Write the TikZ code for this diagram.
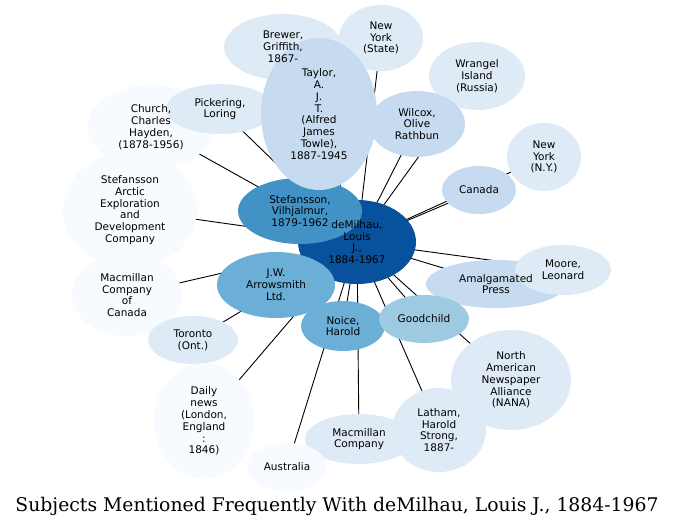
\documentclass[tikz,border=0pt]{standalone}
\usepackage{fontspec}
\setmainfont{DejaVu Sans}
\newfontfamily\titlefont{DejaVu Serif}
\usetikzlibrary{shapes.geometric}
\pgfdeclarelayer{edges}
\pgfsetlayers{edges,main}
\definecolor{cA}{HTML}{08519C}
\definecolor{cB}{HTML}{4292C6}
\definecolor{cC}{HTML}{6BAED6}
\definecolor{cD}{HTML}{9ECAE1}
\definecolor{cE}{HTML}{C6DBEF}
\definecolor{cF}{HTML}{DEEBF7}
\definecolor{cG}{HTML}{F7FBFF}
\begin{document}
\begin{tikzpicture}[x=1pt,y=-1pt,
  blob/.style={shape=ellipse, inner sep=0pt},
  lbl/.style={align=center, font=\fontsize{10.5}{11.8}\selectfont}
]
\useasboundingbox (0,0) rectangle (675,528);

\node[blob,fill=cF,minimum width=118,minimum height=66] (brewer) at (283,47) {};
\node[blob,fill=cF,minimum width=84,minimum height=66] (nys) at (381,38) {};
\node[blob,fill=cF,minimum width=96,minimum height=68] (wrangel) at (477,76) {};
\node[blob,fill=cG,minimum width=126,minimum height=84] (church) at (151,127) {};
\node[blob,fill=cF,minimum width=108,minimum height=50] (pickering) at (220,109) {};
\node[blob,fill=cG,minimum width=134,minimum height=116] (arctic) at (130,210) {};
\node[blob,fill=cE,minimum width=96,minimum height=66] (wilcox) at (417,124) {};
\node[blob,fill=cE,minimum width=74,minimum height=48] (canada) at (479,190) {};
\node[blob,fill=cF,minimum width=74,minimum height=68] (nyc) at (544,157) {};
\node[blob,fill=cG,minimum width=110,minimum height=82] (macmcan) at (127,295) {};
\node[blob,fill=cE,minimum width=140,minimum height=48] (amalg) at (496,284) {};
\node[blob,fill=cF,minimum width=96,minimum height=50] (moore) at (563,270) {};
\node[blob,fill=cF,minimum width=90,minimum height=48] (toronto) at (193,340) {};
\node[blob,fill=cF,minimum width=120,minimum height=100] (nana) at (511,380) {};
\node[blob,fill=cG,minimum width=100,minimum height=116] (daily) at (204,421) {};
\node[blob,fill=cF,minimum width=108,minimum height=50] (macm) at (359,439) {};
\node[blob,fill=cF,minimum width=94,minimum height=84] (latham) at (439,430) {};
\node[blob,fill=cG,minimum width=80,minimum height=48] (australia) at (287,467) {};
\node[blob,fill=cA,minimum width=118,minimum height=84] (milhau) at (357,242) {};
\node[blob,fill=cC,minimum width=118,minimum height=66] (arrow) at (276,285) {};
\node[blob,fill=cC,minimum width=84,minimum height=50] (noice) at (343,326) {};
\node[blob,fill=cD,minimum width=90,minimum height=48] (goodchild) at (424,319) {};
\node[blob,fill=cB,minimum width=124,minimum height=66] (stef) at (300,211) {};
\node[blob,fill=cE,minimum width=116,minimum height=152] (taylor) at (319,114) {};

\begin{pgfonlayer}{edges}
\foreach \n in {brewer,nys,wrangel,church,pickering,arctic,wilcox,canada,nyc,
  macmcan,amalg,moore,toronto,nana,daily,macm,latham,australia,arrow,noice,
  goodchild,stef,taylor}
  \draw[line width=0.9pt] (milhau.center) -- (\n.center);
\end{pgfonlayer}

\node[lbl] (t-brewer) at (283,47) {Brewer,\\Griffith,\\1867-};
\node[lbl] (t-nys) at (381,38) {New\\York\\(State)};
\node[lbl] (t-wrangel) at (477,76) {Wrangel\\Island\\(Russia)};
\node[lbl] (t-church) at (151,127) {Church,\\Charles\\Hayden,\\(1878-1956)};
\node[lbl] (t-pickering) at (220,109) {Pickering,\\Loring};
\node[lbl] (t-arctic) at (130,210) {Stefansson\\Arctic\\Exploration\\and\\Development\\Company};
\node[lbl] (t-wilcox) at (417,124) {Wilcox,\\Olive\\Rathbun};
\node[lbl] (t-canada) at (479,190) {Canada};
\node[lbl] (t-nyc) at (544,157) {New\\York\\(N.Y.)};
\node[lbl] (t-macmcan) at (127,295) {Macmillan\\Company\\of\\Canada};
\node[lbl] (t-amalg) at (496,284) {Amalgamated\\Press};
\node[lbl] (t-moore) at (563,270) {Moore,\\Leonard};
\node[lbl] (t-toronto) at (193,340) {Toronto\\(Ont.)};
\node[lbl] (t-nana) at (511,380) {North\\American\\Newspaper\\Alliance\\(NANA)};
\node[lbl] (t-daily) at (204,421) {Daily\\news\\(London,\\England\\:\\1846)};
\node[lbl] (t-macm) at (359,439) {Macmillan\\Company};
\node[lbl] (t-latham) at (439,430) {Latham,\\Harold\\Strong,\\1887-};
\node[lbl] (t-australia) at (287,467) {Australia};
\node[lbl] (t-milhau) at (357,242) {deMilhau,\\Louis\\J.,\\1884-1967};
\node[lbl] (t-arrow) at (276,285) {J.W.\\Arrowsmith\\Ltd.};
\node[lbl] (t-noice) at (343,326) {Noice,\\Harold};
\node[lbl] (t-goodchild) at (424,319) {Goodchild};
\node[lbl] (t-stef) at (300,211) {Stefansson,\\Vilhjalmur,\\1879-1962};
\node[lbl] (t-taylor) at (319,114) {Taylor,\\A.\\J.\\T.\\(Alfred\\James\\Towle),\\1887-1945};

\node[font=\fontsize{18.8}{20}\selectfont\titlefont] (title) at (337,506)
  {Subjects Mentioned Frequently With deMilhau, Louis J., 1884-1967};
\end{tikzpicture}
\end{document}
